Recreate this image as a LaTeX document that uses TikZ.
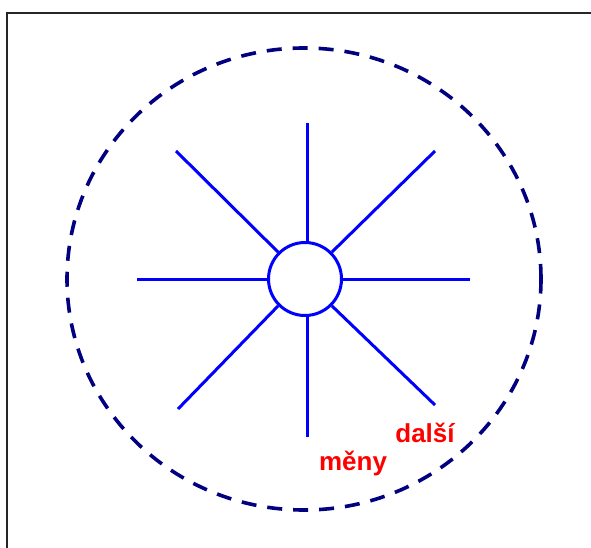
\documentclass[tikz,border=0pt]{standalone}
\usepackage{fontspec}
\setmainfont{Liberation Sans}
\begin{document}
\begin{tikzpicture}[x=1pt,y=1pt,
  spoke/.style={draw={rgb,255:red,0;green,0;blue,255}, line width=3pt},
  rim/.style={draw={rgb,255:red,0;green,0;blue,128}, line width=3.6pt, dash pattern=on 15pt off 11pt},
  lbl/.style={text=red, font=\fontsize{26}{30}\selectfont\bfseries, inner sep=0pt, anchor=base}]
\useasboundingbox (0,0) rectangle (591,547);
\clip (0,0) rectangle (591,547);
\fill[white] (0,0) rectangle (591,547);
\draw[line width=2pt, black!85] (7,-20) -- (7,534) -- (620,534);
\draw[rim] (304,268) ellipse [x radius=237, y radius=231];
\node[circle, spoke, minimum size=73pt, inner sep=0pt] (hub) at (305,268) {};
\coordinate (n)  at (307,424);
\coordinate (s)  at (307,110);
\coordinate (w)  at (137,268);
\coordinate (e)  at (470,268);
\coordinate (nw) at (176,396);
\coordinate (ne) at (435,396);
\coordinate (sw) at (178,138);
\coordinate (se) at (435,142);
\draw[spoke] (hub.north) ++(2,0) -- (n);
\draw[spoke] (hub.south) ++(2,0) -- (s);
\draw[spoke] (hub.west) -- (w);
\draw[spoke] (hub.east) -- (e);
\draw[spoke] (hub.135) -- (nw);
\draw[spoke] (hub.45) -- (ne);
\draw[spoke] (hub.225) -- (sw);
\draw[spoke] (hub.-45) -- (se);
\node[lbl] (dalsi) at (425,105) {další};
\node[lbl] (meny) at (353,77) {měny};
\end{tikzpicture}
\end{document}
